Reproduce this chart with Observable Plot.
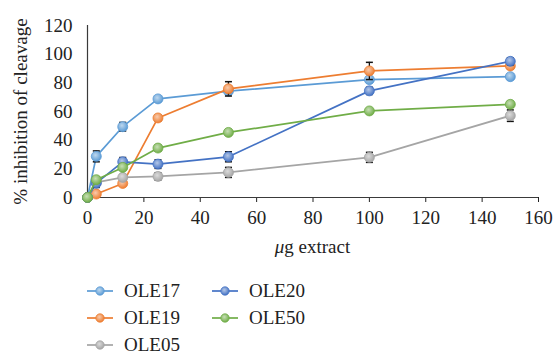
<!DOCTYPE html>
<html><head><meta charset="utf-8">
<script src="https://cdn.jsdelivr.net/npm/d3@7"></script>
<script src="https://cdn.jsdelivr.net/npm/@observablehq/plot@0.6"></script>
<style>
@font-face{font-family:'RefSerif';src:local('Liberation Serif'),local('LiberationSerif'),local('LiberationSerif-Regular'),local('Times New Roman');font-style:normal;font-weight:400}
@font-face{font-family:'RefSerif';src:local('Liberation Serif Italic'),local('LiberationSerif-Italic'),local('Times New Roman Italic');font-style:italic;font-weight:400}
body{margin:0;background:#fff;font-size:18px}
#wrap, #wrap *{font-family:'Liberation Serif' !important}
#wrap{position:relative;width:553px;height:353px}
#chart svg{display:block}
#xlabel{position:absolute;left:87px;width:451px;top:232px;text-align:center;font-size:19px;color:#222;line-height:30px}
#legend{position:absolute;left:87px;top:277px;display:grid;grid-auto-flow:column;grid-template-rows:repeat(3,27px);grid-template-columns:125px 125px;font-size:19px;color:#222}
.item{display:flex;align-items:center}
.item svg{margin-right:11px;flex:none}
</style></head><body>
<div id="wrap"><div id="chart"></div><div id="xlabel"><i>μ</i>g extract</div><div id="legend"></div></div>
<script>
const doses = [0, 3.125, 12.5, 25, 50, 100, 150];
const seriesNames = ["OLE17", "OLE19", "OLE05", "OLE20", "OLE50"];
const seriesColors = ["#5B9BD5", "#ED7D31", "#A5A5A5", "#4472C4", "#70AD47"];
const OLE17 = [0, 28.7, 49.4, 68.8, 74.2, 82.2, 84.3];
const OLE19 = [0, 2.4, 9.8, 55.5, 75.8, 88.3, 91.8];
const OLE05 = [0, 10.6, 14.0, 14.7, 17.5, 28.0, 57.1];
const OLE20 = [0, 10.0, 24.9, 23.3, 28.4, 74.4, 95.0];
const OLE50 = [0, 12.4, 21.0, 34.5, 45.4, 60.4, 65.0];
const OLE17err = [0, 3.8, 3.0, 1.5, 2.0, 1.5, 1.5];
const OLE19err = [0, 1.5, 1.5, 2.0, 5.0, 6.0, 2.0];
const OLE05err = [0, 2.0, 2.0, 2.5, 3.5, 3.5, 4.0];
const OLE20err = [0, 3.0, 3.0, 3.0, 3.5, 2.5, 2.5];
const OLE50err = [0, 2.0, 2.0, 2.0, 2.0, 1.5, 2.0];
const xTicks = [0, 20, 40, 60, 80, 100, 120, 140, 160];
const yTicks = [0, 20, 40, 60, 80, 100, 120];
const yLabel = "% inhibition of cleavage";

const seriesValues = [OLE17, OLE19, OLE05, OLE20, OLE50];
const seriesErrors = [OLE17err, OLE19err, OLE05err, OLE20err, OLE50err];

const cap = {draw(ctx) { ctx.moveTo(-3.5, 0); ctx.lineTo(3.5, 0); }};

const marks = [
  Plot.ruleX([0], {stroke: "#3a3a3a", strokeWidth: 1.2}),
  Plot.ruleY([0], {stroke: "#3a3a3a", strokeWidth: 1.2})
];
seriesNames.forEach((name, i) => {
  const data = doses.map((d, j) => ({dose: d, v: seriesValues[i][j], e: seriesErrors[i][j]}));
  const eb = data.filter(d => d.e > 0);
  marks.push(
    Plot.line(data, {x: "dose", y: "v", stroke: seriesColors[i], strokeWidth: 1.7}),
    Plot.ruleX(eb, {x: "dose", y1: d => d.v - d.e, y2: d => d.v + d.e, stroke: "#111", strokeWidth: 1.3}),
    Plot.dot(eb, {x: "dose", y: d => d.v - d.e, symbol: cap, r: 3, stroke: "#111", strokeWidth: 1.5, fill: "none"}),
    Plot.dot(eb, {x: "dose", y: d => d.v + d.e, symbol: cap, r: 3, stroke: "#111", strokeWidth: 1.5, fill: "none"}),
    Plot.dot(data, {x: "dose", y: "v", r: 5, fill: `url(#g${i})`, stroke: seriesColors[i], strokeWidth: 0.8})
  );
});

const chart = Plot.plot({
  width: 553, height: 232,
  marginLeft: 87, marginRight: 15, marginTop: 25, marginBottom: 35,
  style: {fontFamily: "'Liberation Serif'", fontSize: "19px", color: "#222", background: "white", overflow: "visible"},
  x: {domain: [0, 160], ticks: xTicks, tickSize: 5, tickPadding: 8, label: null},
  y: {domain: [0, 120], ticks: yTicks, tickSize: 0, tickPadding: 15, label: yLabel, labelAnchor: "center", labelOffset: 74},
  marks
});
chart.querySelectorAll("text").forEach(t => {
  if (/[↑→↓←]/.test(t.textContent)) t.textContent = t.textContent.replace(/[↑→↓←]/g, "").trim();
});
// gradients for sphere-like markers, inside the chart svg
const NS = "http://www.w3.org/2000/svg";
const defs = document.createElementNS(NS, "defs");
seriesColors.forEach((c, i) => {
  const g = document.createElementNS(NS, "radialGradient");
  g.setAttribute("id", "g" + i);
  g.setAttribute("cx", "0.42"); g.setAttribute("cy", "0.38"); g.setAttribute("r", "0.62");
  const s0 = document.createElementNS(NS, "stop");
  s0.setAttribute("offset", "0"); s0.setAttribute("stop-color", d3.interpolateRgb(c, "white")(0.6));
  const s1 = document.createElementNS(NS, "stop");
  s1.setAttribute("offset", "1"); s1.setAttribute("stop-color", c);
  g.appendChild(s0); g.appendChild(s1); defs.appendChild(g);
});
chart.insertBefore(defs, chart.firstChild);
document.getElementById("chart").appendChild(chart);

// legend
const legend = document.getElementById("legend");
seriesNames.forEach((name, i) => {
  const it = document.createElement("div");
  it.className = "item";
  it.innerHTML = `<svg width="26" height="12"><line x1="0" x2="26" y1="6" y2="6" stroke="${seriesColors[i]}" stroke-width="1.7"/><circle cx="13" cy="6" r="4.2" fill="url(#g${i})" stroke="${seriesColors[i]}" stroke-width="0.8"/></svg><span>${name}</span>`;
  legend.appendChild(it);
});
</script>
</body></html>
